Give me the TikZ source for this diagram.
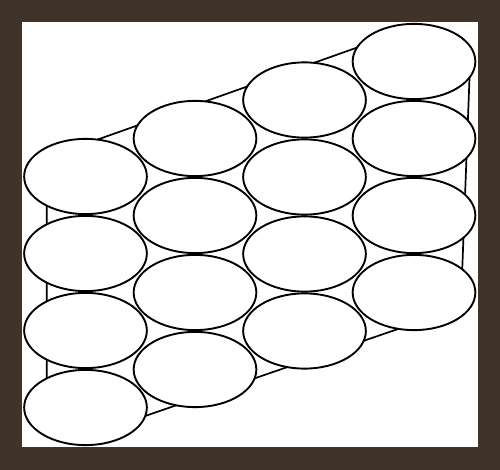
\documentclass[tikz,border=0pt]{standalone}
\usetikzlibrary{shapes.geometric}
\definecolor{frame}{RGB}{64,52,42}
\tikzset{
  cell/.style={ellipse, draw=black, fill=white, line width=1.9pt, inner sep=0pt,
    minimum width=122.7pt, minimum height=75.2pt},
  outline/.style={draw=black, line width=1.7pt, line join=miter}
}
\begin{document}
\begin{tikzpicture}[x=1pt,y=-1pt]
\useasboundingbox (0,0) rectangle (500,470);
\fill[frame] (0,0) rectangle (500,470);
\fill[white] (22,22) rectangle (478,447);
% background outline (corners hidden under the ellipses)
\coordinate (p1) at (46.7,157.6);
\coordinate (p2) at (410,28.8);
\coordinate (p3) at (469.8,70);
\coordinate (p4) at (460.8,307.4);
\coordinate (p5) at (110,428.1);
\coordinate (p6) at (46.7,420);
\draw[outline] (p1) -- (p2) -- (p3) -- (p4) -- (p5) -- (p6) -- cycle;
% ellipses
\foreach \c/\x/\y in {1/85.5/176.5, 2/195/138.5, 3/304.5/100, 4/414/61.5}{
  \foreach \r in {1,2,3,4}{
    \node[cell] (e\c\r) at (\x,{\y+77*(\r-1)}) {};
  }
}
\end{tikzpicture}
\end{document}
